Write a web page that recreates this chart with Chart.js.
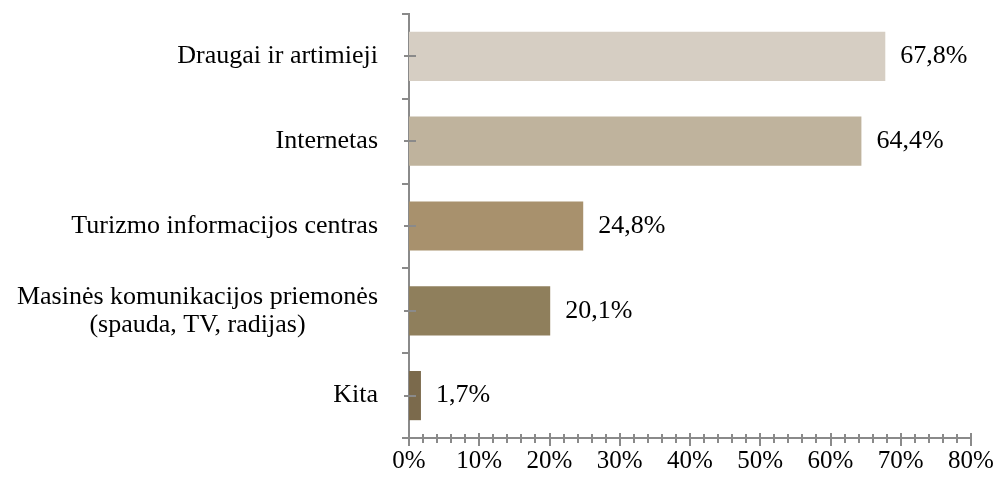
<!DOCTYPE html>
<html>
<head>
<meta charset="utf-8">
<script src="https://cdn.jsdelivr.net/npm/chart.js@4.4.1/dist/chart.umd.min.js"></script>
<style>
  body { margin: 0; background: #fff; }
  #wrap { width: 994px; height: 481px; }
</style>
</head>
<body>
<div id="wrap"><canvas id="myChart"></canvas></div>
<script>
// data
const categories = [
  ['Draugai ir artimieji'],
  ['Internetas'],
  ['Turizmo informacijos centras'],
  ['Masinės komunikacijos priemonės', '(spauda, TV, radijas)'],
  ['Kita']
];
const values = [67.8, 64.4, 24.8, 20.1, 1.7];
const barColors = ['#D6CEC3', '#BFB39D', '#A8916D', '#8F7F5C', '#7B6A4C'];
const xTicks = [0, 10, 20, 30, 40, 50, 60, 70, 80];

const FONT = '"Liberation Serif", "Times New Roman", serif';
const axisColor = '#8a8a8a';

// axis tick marks, category labels and value labels
const decor = {
  id: 'decor',
  afterDraw(chart) {
    const ctx = chart.ctx;
    const x = chart.scales.x;
    const y = chart.scales.y;
    const area = chart.chartArea;
    ctx.save();
    ctx.strokeStyle = axisColor;
    ctx.lineWidth = 2;
    ctx.beginPath();
    // y axis: boundary ticks out, centre ticks across
    const n = categories.length;
    const step = (area.bottom - area.top) / n;
    for (let i = 0; i <= n; i++) {
      const py = Math.round(area.top + step * i);
      ctx.moveTo(area.left - 7, py);
      ctx.lineTo(area.left, py);
    }
    for (let i = 0; i < n; i++) {
      const py = Math.round(y.getPixelForValue(i));
      ctx.moveTo(area.left - 5, py);
      ctx.lineTo(area.left + 7, py);
    }
    // x axis: major every 10, minor every 2
    for (let v = 0; v <= 80; v += 2) {
      const px = Math.round(x.getPixelForValue(v));
      const major = v % 10 === 0;
      ctx.moveTo(px, area.bottom - (major ? 5 : 4));
      ctx.lineTo(px, area.bottom + (major ? 8 : 5));
    }
    ctx.stroke();

    ctx.fillStyle = '#000';
    ctx.font = '26px ' + FONT;
    // category labels, lines centred within a right-aligned block
    ctx.textBaseline = 'middle';
    ctx.textAlign = 'center';
    const lineH = 28;
    categories.forEach((lines, i) => {
      const cy = y.getPixelForValue(i);
      const w = Math.max(...lines.map(l => ctx.measureText(l).width));
      const cx = area.left - 31 - w / 2;
      lines.forEach((l, k) => {
        ctx.fillText(l, cx, cy + (k - (lines.length - 1) / 2) * lineH);
      });
    });
    // value labels
    ctx.textAlign = 'left';
    const meta = chart.getDatasetMeta(0);
    meta.data.forEach((bar, i) => {
      const txt = values[i].toFixed(1).replace('.', ',') + '%';
      ctx.fillText(txt, bar.x + 15, bar.y);
    });
    ctx.restore();
  }
};

const ctx = document.getElementById('myChart').getContext('2d');
const chart = new Chart(ctx, {
  type: 'bar',
  data: {
    labels: categories.map(c => c.join(' ')),
    datasets: [{
      data: values,
      backgroundColor: barColors,
      borderWidth: 0,
      categoryPercentage: 1,
      barPercentage: 0.58
    }]
  },
  options: {
    indexAxis: 'y',
    responsive: true,
    maintainAspectRatio: false,
    animation: false,
    layout: { padding: { top: 14, right: 23, left: 0, bottom: 0 } },
    plugins: {
      legend: { display: false },
      tooltip: { enabled: false }
    },
    scales: {
      x: {
        min: 0,
        max: 80,
        afterBuildTicks(scale) {
          scale.ticks = xTicks.map(v => ({ value: v }));
        },
        afterFit(scale) {
          scale.height = 43;
          scale.paddingLeft = 0;
          scale.paddingRight = 0;
        },
        grid: { display: false, drawTicks: false },
        border: { display: true, color: axisColor, width: 2 },
        ticks: {
          padding: 8,
          color: '#000',
          font: { family: FONT, size: 25 },
          maxRotation: 0,
          callback: v => v + '%'
        }
      },
      y: {
        afterFit(scale) { scale.width = 409; },
        grid: { display: false, drawTicks: false },
        border: { display: true, color: axisColor, width: 2 },
        ticks: { display: false }
      }
    }
  },
  plugins: [decor]
});
</script>
</body>
</html>
